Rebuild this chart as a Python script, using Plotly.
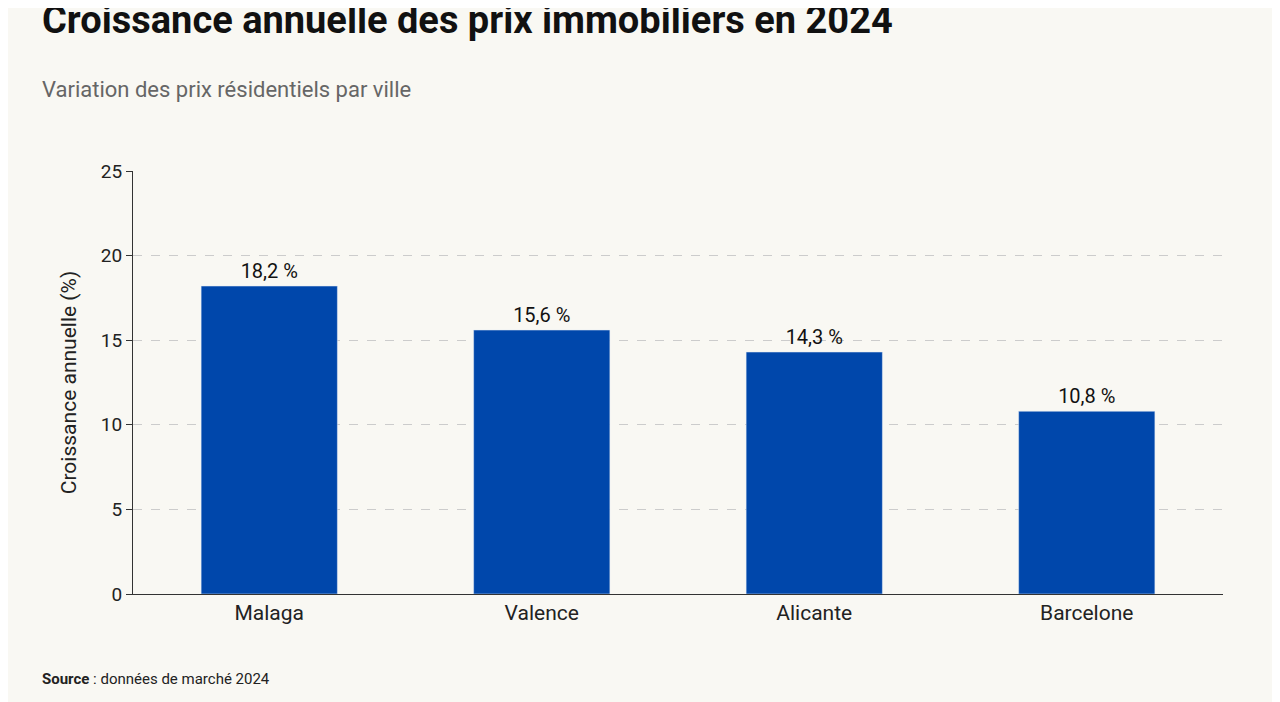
import plotly.graph_objects as go

cities = ["Malaga", "Valence", "Alicante", "Barcelone"]
growth = [18.2, 15.6, 14.3, 10.8]
labels = ["18,2 %", "15,6 %", "14,3 %", "10,8 %"]
yticks = [0, 5, 10, 15, 20, 25]

bg = "#f9f8f3"
fig = go.Figure(go.Bar(
    x=cities, y=growth, width=0.5, marker_color="#0047ab",
    text=labels, textposition="outside", cliponaxis=False,
    textfont=dict(family="Roboto", size=20, color="#111"),
))
fig.update_layout(
    width=1280, height=702, paper_bgcolor=bg, plot_bgcolor=bg,
    margin=dict(l=125, r=65, t=163, b=116),
    showlegend=False,
    font=dict(family="Roboto", color="#222"),
    yaxis=dict(range=[0, 25], tickvals=yticks, showgrid=True, gridcolor="#cccccc",
               griddash="dash", zeroline=False, showline=True, linecolor="#333",
               ticks="outside", ticklen=6, tickcolor="#333",
               tickfont=dict(size=19, color="#222"),
               title=dict(text="Croissance annuelle (%)", font=dict(size=21, color="#222"), standoff=18)),
    xaxis=dict(showline=True, linecolor="#333", tickfont=dict(size=21, color="#222")),
    annotations=[
        dict(text="<b>Croissance annuelle des prix immobiliers en 2024</b>", xref="paper", yref="paper",
             x=-0.0853, y=1.357, xanchor="left", yanchor="middle", showarrow=False,
             font=dict(size=38, color="#111", family="Roboto")),
        dict(text="Variation des prix résidentiels par ville", xref="paper", yref="paper",
             x=-0.0853, y=1.193, xanchor="left", yanchor="middle", showarrow=False,
             font=dict(size=22, color="#666", family="Roboto")),
        dict(text="<b>Source</b> : données de marché 2024", xref="paper", yref="paper",
             x=-0.0853, y=-0.2, xanchor="left", yanchor="middle", showarrow=False,
             font=dict(size=15, color="#222", family="Roboto")),
    ],
)
fig.write_html("out.html")
